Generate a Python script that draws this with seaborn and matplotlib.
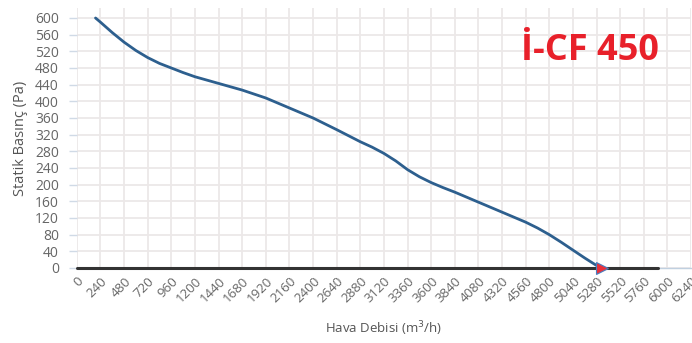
import numpy as np
import pandas as pd
from matplotlib import pyplot as plt
import seaborn as sns

# fan curve
airflow = [190, 240, 360, 480, 600, 720, 840, 960, 1080, 1200, 1440, 1680, 1920,
           2160, 2400, 2640, 2880, 3000, 3120, 3240, 3360, 3480, 3600, 3720, 3840,
           4080, 4320, 4560, 4680, 4800, 4920, 5040, 5160, 5280, 5340]
pressure = [600, 590, 565, 542, 522, 505, 491, 480, 469, 459, 443, 427, 408,
            384, 360, 332, 303, 290, 275, 257, 236, 219, 205, 193, 182,
            158, 134, 110, 96, 80, 62, 43, 24, 6, 0]
x_ticks = list(range(0, 6241, 240))
y_ticks = list(range(0, 601, 40))
title = 'İ-CF 450'

df = pd.DataFrame({'airflow': airflow, 'pressure': pressure})

sns.set_style('white')
plt.rcParams['font.family'] = ['Open Sans', 'DejaVu Sans']

fig, ax = plt.subplots(figsize=(6.92, 3.43), dpi=100)
fig.subplots_adjust(left=0.111, right=0.9986, bottom=0.2187, top=0.9767)

ax.set_xlim(0, 6240)
ax.set_ylim(0, 624)
ax.set_xticks(x_ticks)
ax.set_yticks(y_ticks)
ax.grid(True, color='#ece8e8', linewidth=1.3)
ax.set_axisbelow(True)

# zero line
ax.plot([0, 5900], [0, 0], color='#333333', linewidth=2.2, zorder=3, clip_on=False)

sns.lineplot(data=df, x='airflow', y='pressure', ax=ax, color='#2d5f8e',
             linewidth=2.0, zorder=4, clip_on=False)
ax.plot([airflow[-1]], [pressure[-1]], marker='>', markersize=8, color='#e8303a',
        markeredgecolor='#4a7fc0', markeredgewidth=0.8, zorder=5, clip_on=False)

for side in ['top', 'right', 'left']:
    ax.spines[side].set_visible(False)
ax.spines['bottom'].set_color('#c0d0e0')
ax.spines['bottom'].set_linewidth(1.0)

ax.tick_params(axis='y', length=6, width=1, color='#d0dae6', pad=7,
               labelsize=10, labelcolor='#666666', left=True)
ax.tick_params(axis='x', length=0, pad=5, labelsize=9.5, labelcolor='#666666')
for lbl in ax.get_xticklabels():
    lbl.set_rotation(45)
    lbl.set_ha('right')
    lbl.set_rotation_mode('anchor')

ax.set_xlabel('Hava Debisi (m$^3$/h)', fontsize=9.5, color='#555555', labelpad=10)
ax.set_ylabel('Statik Basınç (Pa)', fontsize=10.5, color='#555555', labelpad=5)

fig.text(0.853, 0.852, title, color='#e8202a', fontsize=26, fontweight='bold',
         ha='center', va='center')

fig.savefig('out.png', dpi=100)
